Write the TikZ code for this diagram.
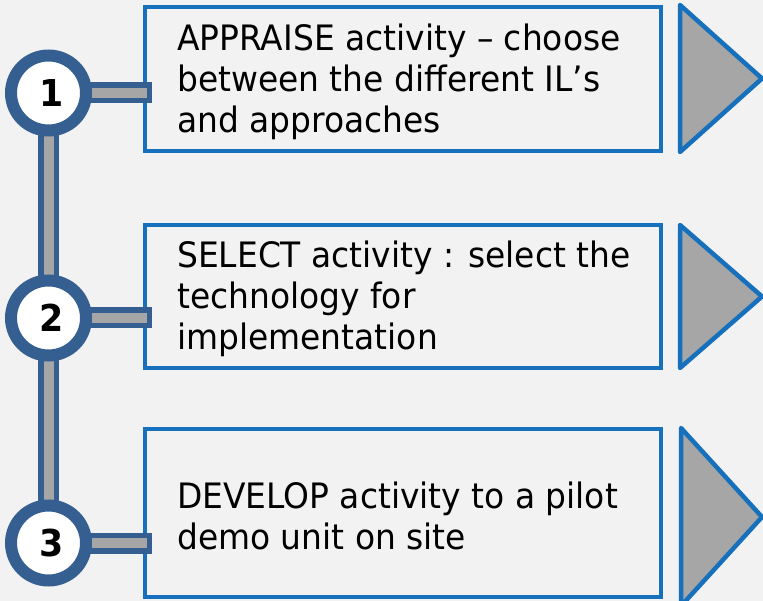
\documentclass[tikz,border=0pt]{standalone}
\usepackage{fontspec}
\setmainfont{DejaVu Sans}[FakeStretch=0.94]
\definecolor{backgr}{RGB}{242,242,242}
\definecolor{boxblue}{RGB}{22,112,188}
\definecolor{ringblue}{RGB}{54,95,145}
\definecolor{bargray}{RGB}{166,166,166}

\begin{document}
\begin{tikzpicture}[x=1pt,y=-1pt]
\tikzstyle{box}=[rectangle,draw=boxblue,line width=4pt,outer sep=0pt,inner sep=0pt,minimum width=516pt]
\tikzstyle{txt}=[anchor=west,align=left,inner sep=0pt,font=\fontsize{35}{41}\selectfont]
\tikzstyle{ring}=[circle,draw=ringblue,fill=white,line width=12pt,minimum size=75pt,inner sep=0pt,font=\fontsize{37}{37}\selectfont\bfseries]
\tikzstyle{barout}=[draw=ringblue,line width=21pt]
\tikzstyle{barin}=[draw=bargray,line width=10pt]
\tikzstyle{chevron}=[draw=boxblue,fill=bargray,line width=4.5pt,line join=round]

\fill[backgr] (0,0) rectangle (763,601);
\useasboundingbox (0,0) rectangle (763,601);
\clip (0,0) rectangle (763,601);

\node [box] (b1) at (403,79)[minimum height=144pt] {};
\node [box] (b2) at (403,296.5)[minimum height=143pt] {};
\node [box] (b3) at (403,513)[minimum height=168pt] {};

\node [txt] (t1) at (177,82) {APPRAISE activity -- choose\\between the different IL’s\\and approaches};
\node [txt] (t2) at (177,299) {SELECT activity : select the\\technology for\\implementation};
\node [txt] (t3) at (177,515.5) {DEVELOP activity to a pilot\\demo unit on site};

\coordinate (c1) at (48.5,93);
\coordinate (c2) at (48.5,318);
\coordinate (c3) at (48.5,543);

\path[barout] (c1) edge (c3);
\path[barout,shorten >=-7pt] (c1) edge (c1 -| b1.west);
\path[barout,shorten >=-7pt] (c2) edge (c2 -| b2.west);
\path[barout,shorten >=-7pt] (c3) edge (c3 -| b3.west);
\path[barin] (c1) edge (c3);
\path[barin,shorten >=-2pt] (c1) edge (c1 -| b1.west);
\path[barin,shorten >=-2pt] (c2) edge (c2 -| b2.west);
\path[barin,shorten >=-2pt] (c3) edge (c3 -| b3.west);

\node [ring] (n1) at (c1) {\hspace{6pt}1};
\node [ring] (n2) at (c2) {\hspace{6pt}2};
\node [ring] (n3) at (c3) {\hspace{6pt}3};

\draw[chevron] (680,5) -- (762,78.5) -- (680,152) -- cycle;
\draw[chevron] (680,225) -- (762,296.5) -- (680,368) -- cycle;
\draw[chevron] (681,428) -- (762,517) -- (681,606) -- cycle;
\end{tikzpicture}
\end{document}
